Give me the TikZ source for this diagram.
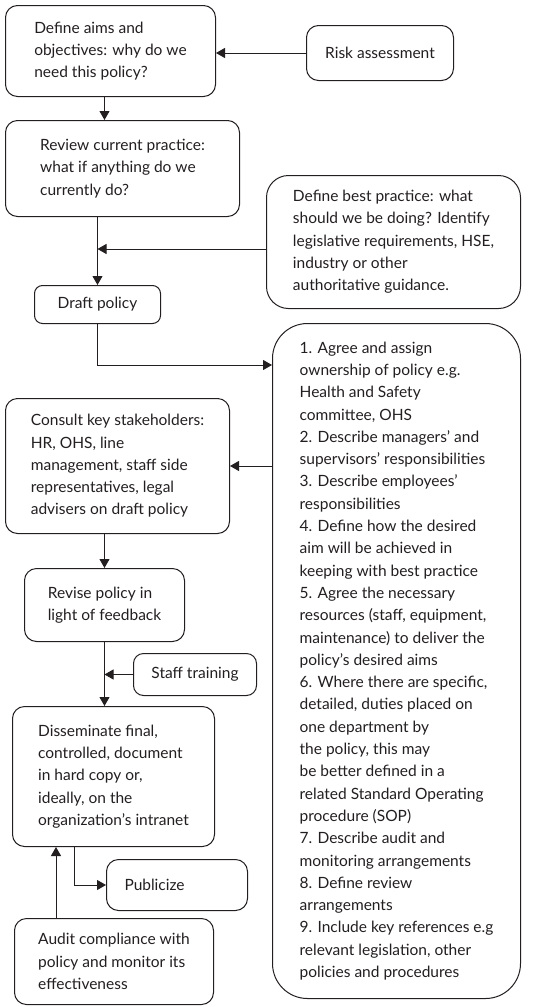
\documentclass[tikz,border=0pt]{standalone}
\usepackage{fontspec}
\setmainfont{Lato}
\usetikzlibrary{arrows.meta}
\definecolor{pline}{RGB}{35,31,32}
\tikzstyle{arrow} = [line width=0.9pt, -{Triangle[length=9pt,width=10pt]}, color=pline]
\tikzstyle{policybox} = [rectangle, rounded corners=12pt, draw=pline, line width=1pt, text=pline, align=left, anchor=north west, inner sep=0pt, font=\fontsize{15.5}{22.3}\selectfont]

\begin{document}
\begin{tikzpicture}[x=1pt, y=-1pt]
\useasboundingbox (0,0) rectangle (537,1007);

% Main flow on the left
\node[policybox, minimum width=210pt, minimum height=91pt] (aims) at (5,5) {Define aims and\\objectives: why do we\\need this policy?};
\node[policybox, minimum width=234pt, minimum height=96pt] (review) at (5,120) {Review current practice:\\what if anything do we\\currently do?};
\node[policybox, minimum width=126pt, minimum height=38pt, rounded corners=8pt] (draft) at (34,285) {Draft policy};
\node[policybox, minimum width=224pt, minimum height=135pt] (consult) at (5,398) {Consult key stakeholders:\\HR, OHS, line\\management, staff side\\representatives, legal\\advisers on draft policy};
\node[policybox, minimum width=160pt, minimum height=73pt] (revise) at (24,568) {Revise policy in\\light of feedback};
\node[policybox, minimum width=202pt, minimum height=140pt] (dissem) at (12,706) {Disseminate final,\\controlled, document\\in hard copy or,\\ideally, on the\\organization's intranet};
\node[policybox, minimum width=199pt, minimum height=86pt] (audit) at (14,918) {Audit compliance with\\policy and monitor its\\effectiveness};

% Inputs on the right
\node[policybox, minimum width=147pt, minimum height=55pt] (risk) at (306,25) {Risk assessment};
\node[policybox, minimum width=254pt, minimum height=133pt, rounded corners=22pt] (best) at (266,175) {Define best practice: what\\should we be doing? Identify\\legislative requirements, HSE,\\industry or other\\authoritative guidance.};
\node[policybox, minimum width=123pt, minimum height=42pt, rounded corners=10pt] (staff) at (133,653) {Staff training};
\node[policybox, minimum width=141pt, minimum height=51pt, text width=105pt] (publicize) at (106,859) {Publicize};

% Policy contents
\node[policybox, minimum width=248pt, minimum height=675pt, rounded corners=35pt] (contents) at (272,323) {1. Agree and assign\\ownership of policy e.g.\\Health and Safety\\committee, OHS\\2. Describe managers' and\\supervisors' responsibilities\\3. Describe employees'\\responsibilities\\4. Define how the desired\\aim will be achieved in\\keeping with best practice\\5. Agree the necessary\\resources (staff, equipment,\\maintenance) to deliver the\\policy's desired aims\\6. Where there are specific,\\detailed, duties placed on\\one department by\\the policy, this may\\be better defined in a\\related Standard Operating\\procedure (SOP)\\7. Describe audit and\\monitoring arrangements\\8. Define review\\arrangements\\9. Include key references e.g\\relevant legislation, other\\policies and procedures};

% Connectors
\draw[arrow] (risk.west) -- (risk.west -| aims.east);
\draw[arrow] ([xshift=-6pt]aims.south) -- ([xshift=-6pt]aims.south |- review.north);
\draw[arrow] (draft.north |- review.south) -- (draft.north);
\draw[arrow] ([yshift=-7pt]best.west) -- ([yshift=-7pt]best.west -| draft.north);
\draw[arrow] (draft.south) |- ([yshift=-42pt]contents.north west);
\draw[arrow] (contents.west |- consult.east) -- (consult.east);
\draw[arrow] (revise.north |- consult.south) -- (revise.north);
\draw[arrow] (revise.south) -- (revise.south |- dissem.north);
\draw[arrow] (staff.west) -- (staff.west -| revise.south);
\draw[arrow] ([xshift=-39pt]dissem.south) |- (publicize.west);
\draw[arrow] ([xshift=-58pt]audit.north) -- ([xshift=-58pt]audit.north |- dissem.south);
\end{tikzpicture}
\end{document}
